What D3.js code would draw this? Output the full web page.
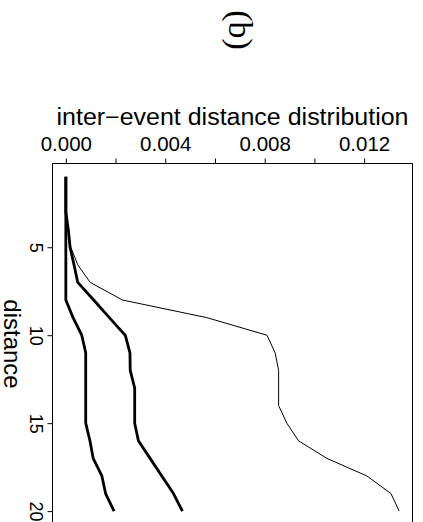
<!DOCTYPE html>
<html>
<head>
<meta charset="utf-8">
<script src="https://cdn.jsdelivr.net/npm/d3@7"></script>
<style>
  body { margin: 0; background: #fff; }
  text { font-family: "Liberation Sans", Arial, sans-serif; fill: #000; }
</style>
</head>
<body>
<div id="wrapper"></div>
<script>
// data
const distance = [1, 2, 3, 4, 5, 6, 7, 8, 9, 10, 11, 12, 13, 14, 15, 16, 17, 18, 19, 20];
const thinSeries = [0, 0, 0.00001, 0.0001, 0.0002, 0.00048, 0.00098, 0.00228, 0.00567, 0.00809,
  0.00842, 0.00856, 0.00856, 0.00856, 0.00889, 0.00936, 0.0105, 0.01211, 0.01308, 0.01341];
const midSeries = [0, 0, 0, 0.0001, 0.00017, 0.00033, 0.00048, 0.00112, 0.00175, 0.00239,
  0.00258, 0.00259, 0.00277, 0.00277, 0.00277, 0.00292, 0.00339, 0.00386, 0.00433, 0.00469];
const lowSeries = [0, 0, 0, 0, 0, 0, 0, 0, 0.00029, 0.00064,
  0.0008, 0.0008, 0.0008, 0.0008, 0.0008, 0.00097, 0.0011, 0.00145, 0.0016, 0.00194];
const valueTicks = [0, 0.002, 0.004, 0.006, 0.008, 0.01, 0.012];
const valueLabels = [0, 0.004, 0.008, 0.012];
const distanceTicks = [5, 10, 15, 20];

// 1. dimensions
const dimensions = {
  width: 423,
  height: 522,
  box: { left: 52.5, right: 412.5, top: 163.5, bottom: 524.5 },
};

// 2. svg
const svg = d3.select("#wrapper")
  .append("svg")
  .attr("width", dimensions.width)
  .attr("height", dimensions.height);

// 3. scales (R style 4% padding)
const maxVal = d3.max(thinSeries);
const padX = maxVal * 0.04;
const xScale = d3.scaleLinear()
  .domain([-padX, maxVal + padX])
  .range([dimensions.box.left, dimensions.box.right]);

const padY = (d3.max(distance) - d3.min(distance)) * 0.04;
const yScale = d3.scaleLinear()
  .domain([d3.min(distance) - padY, d3.max(distance) + padY])
  .range([dimensions.box.top, dimensions.box.bottom]);

// 4. lines
const lineGenerator = (values) => d3.line()
  .x((d, i) => xScale(values[i]))
  .y((d) => yScale(d))(distance);

svg.append("path")
  .attr("d", lineGenerator(thinSeries))
  .attr("fill", "none")
  .attr("stroke", "#000")
  .attr("stroke-width", 1);

[midSeries, lowSeries].forEach((s) => {
  svg.append("path")
    .attr("d", lineGenerator(s))
    .attr("fill", "none")
    .attr("stroke", "#000")
    .attr("stroke-width", 2.8)
    .attr("stroke-linejoin", "round");
});

// 5. box
svg.append("rect")
  .attr("x", dimensions.box.left)
  .attr("y", dimensions.box.top)
  .attr("width", dimensions.box.right - dimensions.box.left)
  .attr("height", dimensions.box.bottom - dimensions.box.top)
  .attr("fill", "none")
  .attr("stroke", "#000")
  .attr("stroke-width", 1);

// 6. axes
const topAxis = svg.append("g")
  .attr("transform", `translate(0, ${dimensions.box.top})`)
  .call(d3.axisTop(xScale)
    .tickValues(valueTicks)
    .tickSize(5)
    .tickFormat((d) => valueLabels.includes(d) ? d3.format(".3f")(d) : ""));
topAxis.select(".domain").remove();
topAxis.selectAll("line").attr("stroke", "#000");
topAxis.selectAll("text")
  .attr("y", -13)
  .attr("font-size", 20.5)
  .attr("font-family", "Liberation Sans, Arial, sans-serif");

const leftAxis = svg.append("g")
  .attr("transform", `translate(${dimensions.box.left}, 0)`)
  .call(d3.axisLeft(yScale).tickValues(distanceTicks).tickSize(5));
leftAxis.select(".domain").remove();
leftAxis.selectAll("line").attr("stroke", "#000");
leftAxis.selectAll("text")
  .attr("x", null)
  .attr("dy", null)
  .attr("transform", "translate(-22.5, 0) rotate(90)")
  .attr("text-anchor", "middle")
  .attr("font-size", 18)
  .attr("font-family", "Liberation Sans, Arial, sans-serif");

// 7. labels
svg.append("text")
  .attr("x", (dimensions.box.left + dimensions.box.right) / 2)
  .attr("y", 125)
  .attr("text-anchor", "middle")
  .attr("font-size", 23)
  .attr("textLength", 352)
  .attr("lengthAdjust", "spacingAndGlyphs")
  .text("inter\u2212event distance distribution");

svg.append("text")
  .attr("transform", `translate(4, ${(dimensions.box.top + dimensions.box.bottom) / 2}) rotate(90)`)
  .attr("text-anchor", "middle")
  .attr("font-size", 24)
  .text("distance");

svg.append("text")
  .attr("transform", "translate(229, 30) rotate(90)")
  .attr("text-anchor", "middle")
  .attr("font-size", 34)
  .style("font-family", "Liberation Serif, Times, serif")
  .text("(b)");
</script>
</body>
</html>
